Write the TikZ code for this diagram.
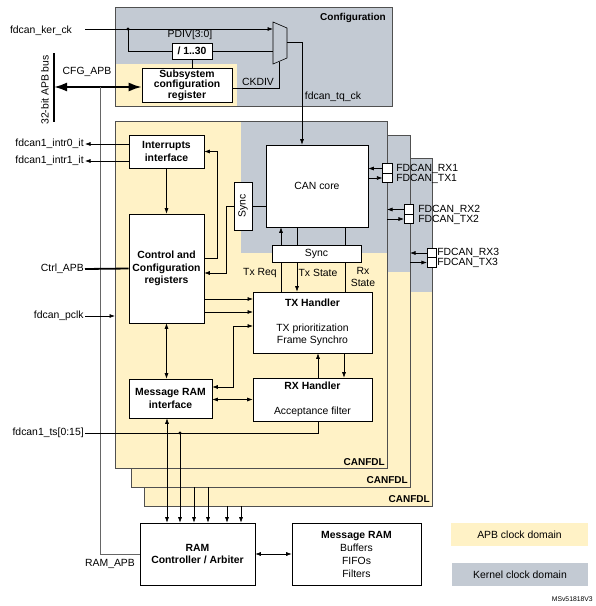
\documentclass[tikz,border=0pt]{standalone}
\usepackage{fontspec}
\usepackage{graphicx}
\setmainfont{Liberation Sans}
\usetikzlibrary{positioning, arrows.meta}
\definecolor{apbyellow}{RGB}{255,242,198}
\definecolor{kergray}{RGB}{195,202,211}
\definecolor{edgegray}{RGB}{80,80,80}
\tikzset{
	>={Latex[length=5.5pt,width=4pt]},
	blk/.style={draw, fill=white, align=center, inner sep=1pt},
	bblk/.style={blk, font=\bfseries\fontsize{10.4}{12.5}\selectfont},
	port/.style={draw, fill=white, minimum width=9.5pt, minimum height=9.5pt, inner sep=0pt},
	frame/.style={draw=edgegray, line width=0.8pt},
	lbl/.style={inner sep=1pt},
	bus/.style={line width=2.4pt},
}
\begin{document}
\begin{tikzpicture}[x=1pt, y=-1pt, line width=0.6pt, font=\fontsize{10.4}{12.5}\selectfont]
	\useasboundingbox (0,0) rectangle (596,606);
	% configuration area
	\fill[kergray] (115,7) rectangle (392,106);
	\fill[apbyellow] (115,64) rectangle (237,106);
	\draw[frame] (115,7) rectangle (392,106);
	% CANFDL instances, back to front
	\fill[apbyellow] (144,158) rectangle (432,506);
	\fill[kergray] (270,158) rectangle (432,292);
	\draw[frame] (144,158) rectangle (432,506);
	\fill[apbyellow] (131,135) rectangle (410,487);
	\fill[kergray] (260,135) rectangle (410,272);
	\draw[frame] (131,135) rectangle (410,487);
	\fill[apbyellow] (115,121) rectangle (387,468);
	\fill[kergray] (241,121) rectangle (387,253);
	\draw[frame] (115,121) rectangle (387,468);
	\node[lbl, anchor=east, font=\bfseries] (fdl3) at (431,499) {CANFDL};
	\node[lbl, anchor=east, font=\bfseries] (fdl2) at (409,480) {CANFDL};
	\node[lbl, anchor=east, font=\bfseries] (fdl1) at (386,462) {CANFDL};
	\coordinate (f1l) at (115,0);
	\coordinate (f1r) at (387,0);
	\coordinate (f2r) at (410,0);

	% configuration blocks
	\node[lbl, font=\bfseries] (cfgt) at (353,18) {Configuration};
	\node[bblk, minimum width=40pt, minimum height=16pt] (div) at (192,51) {/ 1..30};
	\node[lbl] (pdiv) at (190,35) {PDIV[3:0]};
	\node[blk, minimum width=90pt, minimum height=34pt, font=\bfseries\fontsize{10.4}{10.5}\selectfont] (sub) at (187,85) {Subsystem\\configuration\\register};
	\draw (273,22) -- (287,28) -- (287,58) -- (273,64) -- cycle;
	\coordinate (muxa) at (273,29);
	\coordinate (muxb) at (273,51);
	\coordinate (muxo) at (287,42);
	\coordinate (muxs) at (279,61.5);
	\node[lbl] (kerck) at (41,31) {fdcan\_ker\_ck};
	\coordinate (kerin) at (85,29);
	\coordinate (kerdot) at (128,29);
	\node[lbl] (ckdiv) at (258,82) {CKDIV};
	\node[lbl] (tqck) at (333,97) {fdcan\_tq\_ck};
	\node[lbl] (cfgapb) at (87,72) {CFG\_APB};
	\node[lbl, rotate=90] (busl) at (45,90) {32-bit APB bus};
	\coordinate (bustop) at (54,53);
	\coordinate (busbot) at (54,122);
	\coordinate (cfgbus) at (54,87);
	\coordinate (apbtap) at (100,87);

	% CANFDL blocks
	\node[blk, minimum width=102pt, minimum height=82pt] (can) at (317,186) {CAN core};
	\node[blk, minimum width=18pt, minimum height=48pt] (vsync) at (243,206) {\rotatebox{90}{Sync}};
	\node[blk, minimum width=89pt, minimum height=17pt] (hsync) at (316.5,253.5) {Sync};
	\node[bblk, minimum width=75pt, minimum height=33pt] (intr) at (166.5,151.5) {Interrupts\\interface};
	\node[bblk, minimum width=75pt, minimum height=109pt] (ctrl) at (166.5,268.5) {Control and\\Configuration\\registers};
	\node[bblk, minimum width=83pt, minimum height=39pt] (mri) at (170.5,398.5) {Message RAM\\interface};
	\node[blk, minimum width=119pt, minimum height=61pt] (txh) at (312.5,322.5) {\textbf{TX Handler}\\[12.5pt]TX prioritization\\Frame Synchro};
	\node[blk, minimum width=119pt, minimum height=43pt] (rxh) at (312.5,399.5) {\textbf{RX Handler}\\[13pt]Acceptance filter};
	\node[lbl] (txreql) at (260,273) {Tx Req};
	\node[lbl] (txstl) at (318,273) {Tx State};
	\node[lbl, align=center] (rxstl) at (363,277) {Rx\\State};

	% ports
	\node[port] (rx1) at (387.5,168.5) {};
	\node[port] (tx1) at (387.5,178) {};
	\node[port] (rx2) at (409,209.5) {};
	\node[port] (tx2) at (409,219) {};
	\node[port] (rx3) at (432,253) {};
	\node[port] (tx3) at (432,262.5) {};
	\node[lbl, anchor=west] (rx1l) at (395,168.5) {FDCAN\_RX1};
	\node[lbl, anchor=west] (tx1l) at (395,178.5) {FDCAN\_TX1};
	\node[lbl, anchor=west] (rx2l) at (417,209.5) {FDCAN\_RX2};
	\node[lbl, anchor=west] (tx2l) at (417,219.5) {FDCAN\_TX2};
	\node[lbl, anchor=west] (rx3l) at (436,253) {FDCAN\_RX3};
	\node[lbl, anchor=west] (tx3l) at (436,263) {FDCAN\_TX3};

	% outside signals
	\node[lbl, anchor=east] (intr0) at (85,144) {fdcan1\_intr0\_it};
	\node[lbl, anchor=east] (intr1) at (85,161) {fdcan1\_intr1\_it};
	\node[lbl, anchor=east] (ctrlapb) at (85,269) {Ctrl\_APB};
	\node[lbl, anchor=east] (pclk) at (85,316) {fdcan\_pclk};
	\node[lbl, anchor=east] (tsl) at (85,433) {fdcan1\_ts[0:15]};
	\node[lbl] (ramapb) at (110,564) {RAM\_APB};

	% RAM side
	\node[bblk, minimum width=115pt, minimum height=62pt] (ramctl) at (197.5,554) {RAM\\Controller / Arbiter};
	\node[blk, minimum width=129pt, minimum height=62pt, font=\fontsize{10.4}{13}\selectfont] (msgram) at (356.5,554) {\textbf{Message RAM}\\Buffers\\FIFOs\\Filters};
	\node[fill=apbyellow, minimum width=137pt, minimum height=23pt] (apbleg) at (519.5,534.5) {APB clock domain};
	\node[fill=kergray, minimum width=136pt, minimum height=23pt] (kerleg) at (520,574.5) {Kernel clock domain};
	\node[lbl, anchor=east, font=\fontsize{6.8}{7}\selectfont] (msv) at (594,599) {MSv51818V3};

	% clock and configuration wiring
	\draw[->] (kerin) -- (muxa);
	\fill (kerdot) circle (1.6);
	\draw (kerdot) |- (div.west);
	\draw (div.east) -- (muxb);
	\draw (div.south) -- (div.south |- sub.north);
	\draw (muxs) |- ([yshift=-3pt]sub.east);
	\coordinate (tqbend) at (302,42);
	\draw[->] (muxo) -- (tqbend) -- (tqbend |- can.north);
	\draw[bus] (bustop) -- (busbot);
	\draw[line width=2pt, {Latex[length=13pt,width=9pt]}-{Latex[length=13pt,width=9pt]}] (cfgbus) -- ([yshift=-2pt]sub.west);
	\draw[black!60] (apbtap) |- (ramctl.west);

	% CAN core and sync
	\draw (vsync.east) -- (vsync.east -| can.west);
	\draw[->] (vsync.west) -- ++(-7,0) |- ([yshift=-4.5pt]ctrl.east);
	\coordinate (xreq) at (281,0);
	\coordinate (xtst) at (297,0);
	\coordinate (xrst) at (345,0);
	\draw[->] (xreq |- hsync.north) -- (xreq |- can.south);
	\draw (xreq |- txh.north) -- (xreq |- hsync.south);
	\draw (xtst |- can.south) -- (xtst |- hsync.north);
	\draw[->] (xtst |- hsync.south) -- (xtst |- txh.north);
	\draw (xrst |- can.south) -- (xrst |- hsync.north);
	\draw (xrst |- hsync.south) -- (xrst |- txh.north);
	\draw[->] (rx1.west) -- (rx1.west -| can.east);
	\draw[->] (tx1.west -| can.east) -- (tx1.west);
	\draw[->] (rx2.west) -- (rx2.west -| f1r);
	\draw[->] (tx2.west -| f1r) -- (tx2.west);
	\draw[->] (rx3.west) -- (rx3.west -| f2r);
	\draw[->] (tx3.west -| f2r) -- (tx3.west);

	% registers and handlers
	\draw[->] ([yshift=7.5pt]intr.west) -- (intr0.east);
	\draw[->] ([yshift=-9.5pt]intr.west) -- (intr1.east);
	\draw[->] (intr.south) -- (ctrl.north);
	\draw[->] ([yshift=10.5pt]ctrl.east) -- ++(13,0) |- (intr.east);
	\draw[line width=1.8pt] (ctrlapb.east) -- (ctrl.west);
	\draw[->] (pclk.east) -- (pclk.east -| f1l);
	\coordinate (txin1) at (253,299);
	\coordinate (txin2) at (253,312);
	\coordinate (txin3) at (253,326);
	\draw[->] (txin1 -| ctrl.east) -- (txin1);
	\draw[->] (txin2 -| ctrl.east) -- (txin2);
	\draw[<->] ([yshift=11.5pt]mri.east) -- ++(21,0) |- (txin3);
	\draw[<->] (mri.east |- rxh.west) -- (rxh.west);
	\draw[<->] (ctrl.south) -- (ctrl.south |- mri.north);
	\coordinate (xup) at (318,0);
	\coordinate (xdn) at (344,0);
	\draw[->] (xup |- rxh.north) -- (xup |- txh.south);
	\draw[->] (xdn |- txh.south) -- (xdn |- rxh.north);
	\draw (tsl.east) -| (xup |- rxh.south);

	% lanes to the RAM controller
	\coordinate (tsdot) at (180,433);
	\fill (tsdot) circle (1.6);
	\draw[->] (tsdot) -- (tsdot |- ramctl.north);
	\coordinate (xmri) at (167,0);
	\draw[<->] (xmri |- mri.south) -- (xmri |- ramctl.north);
	\foreach \x/\y in {194/487, 208/487, 227/506, 241/506}{
		\coordinate (lane) at (\x,\y);
		\draw[->] (lane) -- (lane |- ramctl.north);
	}
	\draw[<->] (ramctl.east) -- (msgram.west);
\end{tikzpicture}
\end{document}
